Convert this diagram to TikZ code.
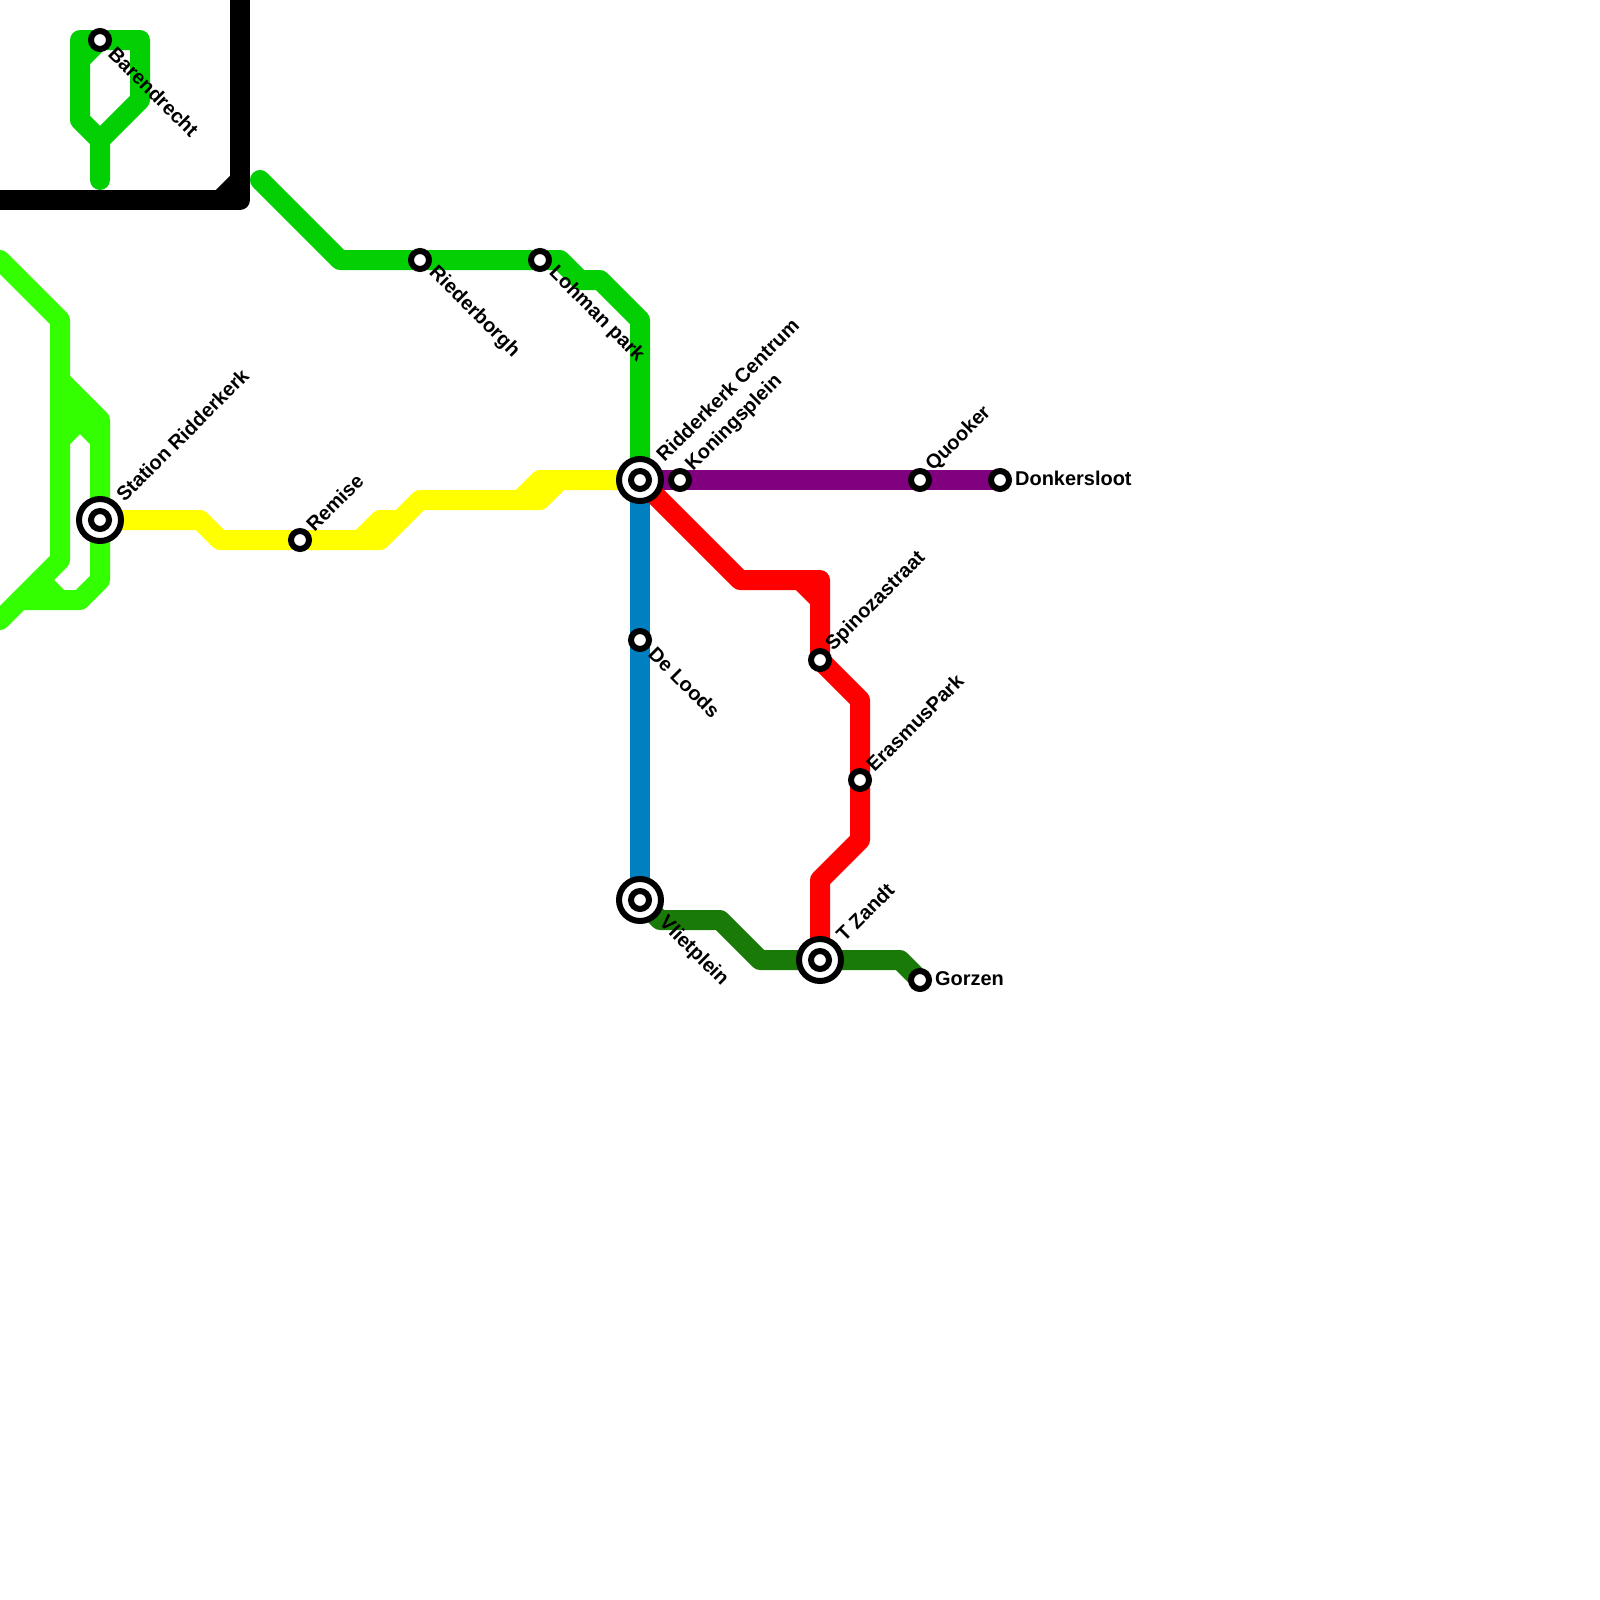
\documentclass[tikz,border=0pt]{standalone}
\usepackage{fontspec}
\setmainfont{Liberation Sans}
\definecolor{cgreen}{HTML}{02D002}
\definecolor{cbright}{HTML}{33FF00}
\definecolor{cdark}{HTML}{197A08}
\definecolor{cblue}{HTML}{0080C0}
\definecolor{cpurple}{HTML}{800080}
\definecolor{cyellow}{HTML}{FFFF00}
\definecolor{cred}{HTML}{FF0000}
\begin{document}
\begin{tikzpicture}[x=0.05cm,y=-0.05cm,
  metro/.style={line width=1cm,line join=round,line cap=round},
  stn/.style={circle,draw=black,fill=white,line width=.3cm,minimum size=.9cm,inner sep=0pt},
  bigstn/.style={circle,draw=black,fill=white,line width=.3cm,minimum size=2.1cm,inner sep=0pt},
  lbl/.style={inner sep=0pt,font=\bfseries\fontsize{28.4}{32}\selectfont,text=black}]
\useasboundingbox (0,0) rectangle (1600,1600);
\clip (0,0) rectangle (1600,1600);
% station positions
\coordinate (pBar) at (100,40);
\coordinate (pSta) at (100,520);
\coordinate (pRem) at (300,540);
\coordinate (pRie) at (420,260);
\coordinate (pLoh) at (540,260);
\coordinate (pCen) at (640,480);
\coordinate (pKon) at (680,480);
\coordinate (pQuo) at (920,480);
\coordinate (pDon) at (1000,480);
\coordinate (pLoo) at (640,640);
\coordinate (pSpi) at (820,660);
\coordinate (pEra) at (860,780);
\coordinate (pVli) at (640,900);
\coordinate (pZan) at (820,960);
\coordinate (pGor) at (920,980);
% line ends
\coordinate (eBlackW) at (-20,200);
\coordinate (eBlackN) at (240,-20);
\coordinate (eG1) at (100,180);
\coordinate (eG2) at (260,180);
\coordinate (eB1) at (0,260);
\coordinate (eB2) at (0,620);
% lines
\draw[metro,black] (eBlackW) -- (240,200) -- (eBlackN);
\draw[metro,black] (220,200) -- (240,180);
\draw[metro,cgreen] (eG1) -- (100,140) -- (80,120) -- (80,40) -- (pBar) -- (140,40) -- (140,100) -- (100,140);
\draw[metro,cgreen] (80,60) -- (pBar);
\draw[metro,cgreen] (eG2) -- (340,260) -- (pRie) -- (pLoh) -- (560,260) -- (580,280) -- (600,280) -- (640,320) -- (pCen);
\draw[metro,cbright] (eB1) -- (60,320) -- (60,560) -- (eB2);
\draw[metro,cbright] (60,380) -- (100,420) -- (pSta) -- (100,580) -- (80,600) -- (20,600);
\draw[metro,cbright] (60,440) -- (80,420) -- (100,440);
\draw[metro,cbright] (60,400) -- (80,420);
\draw[metro,cbright] (40,580) -- (60,600);
\draw[metro,cyellow] (pSta) -- (200,520) -- (220,540) -- (pRem) -- (380,540) -- (420,500) -- (540,500) -- (560,480) -- (pCen);
\draw[metro,cyellow] (360,540) -- (380,520) -- (400,520);
\draw[metro,cyellow] (520,500) -- (540,480) -- (560,480);
\draw[metro,cblue] (pCen) -- (pLoo) -- (pVli);
\draw[metro,cpurple] (pCen) -- (pKon) -- (pQuo) -- (pDon);
\draw[metro,cred] (pCen) -- (740,580) -- (820,580) -- (pSpi) -- (860,700) -- (pEra) -- (860,840) -- (820,880) -- (pZan);
\draw[metro,cred] (800,580) -- (820,600);
\draw[metro,cdark] (pVli) -- (660,920) -- (720,920) -- (760,960) -- (pZan) -- (900,960) -- (pGor);
% stations
\node[stn] (sBar) at (pBar) {};
\node[stn] (sRem) at (pRem) {};
\node[stn] (sRie) at (pRie) {};
\node[stn] (sLoh) at (pLoh) {};
\node[stn] (sKon) at (pKon) {};
\node[stn] (sQuo) at (pQuo) {};
\node[stn] (sDon) at (pDon) {};
\node[stn] (sLoo) at (pLoo) {};
\node[stn] (sSpi) at (pSpi) {};
\node[stn] (sEra) at (pEra) {};
\node[stn] (sGor) at (pGor) {};
\node[bigstn] (sSta) at (pSta) {};
\node[stn] (iSta) at (pSta) {};
\node[bigstn] (sCen) at (pCen) {};
\node[stn] (iCen) at (pCen) {};
\node[bigstn] (sVli) at (pVli) {};
\node[stn] (iVli) at (pVli) {};
\node[bigstn] (sZan) at (pZan) {};
\node[stn] (iZan) at (pZan) {};
% labels
\node[lbl,rotate=-45,anchor=west] (tBar) at ([shift={(12,10)}]pBar) {Barendrecht};
\node[lbl,rotate=-45,anchor=west] (tRie) at ([shift={(12,10)}]pRie) {Riederborgh};
\node[lbl,rotate=-45,anchor=west] (tLoh) at ([shift={(12,10)}]pLoh) {Lohman park};
\node[lbl,rotate=-45,anchor=west] (tLoo) at ([shift={(12,10)}]pLoo) {De Loods};
\node[lbl,rotate=-45,anchor=west] (tVli) at ([shift={(22,20)}]pVli) {Vlietplein};
\node[lbl,rotate=45,anchor=west] (tSta) at ([shift={(19.5,-22)}]pSta) {Station Ridderkerk};
\node[lbl,rotate=45,anchor=west] (tRem) at ([shift={(9.5,-12)}]pRem) {Remise};
\node[lbl,rotate=45,anchor=west] (tCen) at ([shift={(19.5,-22)}]pCen) {Ridderkerk Centrum};
\node[lbl,rotate=45,anchor=west] (tKon) at ([shift={(9.5,-12)}]pKon) {Koningsplein};
\node[lbl,rotate=45,anchor=west] (tQuo) at ([shift={(9.5,-12)}]pQuo) {Quooker};
\node[lbl,rotate=45,anchor=west] (tSpi) at ([shift={(9.5,-12)}]pSpi) {Spinozastraat};
\node[lbl,rotate=45,anchor=west] (tEra) at ([shift={(9.5,-12)}]pEra) {ErasmusPark};
\node[lbl,rotate=45,anchor=west] (tZan) at ([shift={(19.5,-22)}]pZan) {T Zandt};
\node[lbl,anchor=west] (tDon) at ([shift={(15,-1.5)}]pDon) {Donkersloot};
\node[lbl,anchor=west] (tGor) at ([shift={(15,-1.5)}]pGor) {Gorzen};
\end{tikzpicture}
\end{document}
